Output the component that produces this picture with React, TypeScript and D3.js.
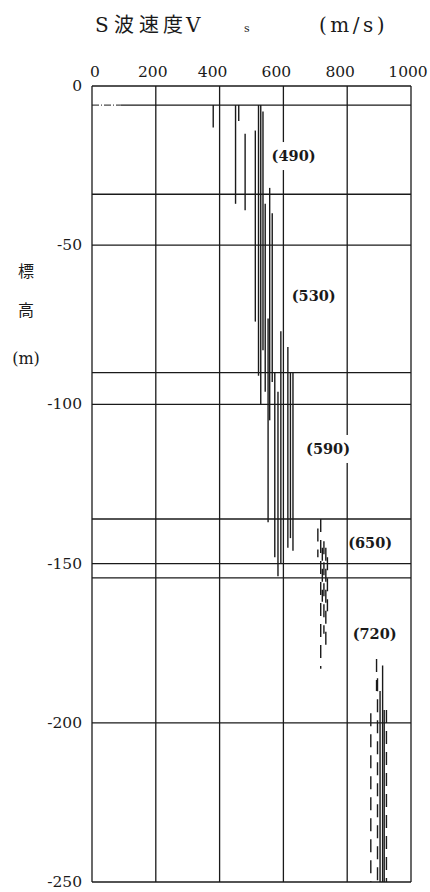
import React from "react";
import * as d3 from "d3";

const xTicks = [0, 200, 400, 600, 800, 1000];
const yTicks = [0, -50, -100, -150, -200, -250];
const boundaries = [-6, -34, -90, -136, -154.5];
const layerLabels = ["(490)", "(530)", "(590)", "(650)", "(720)"];
const layerLabelVs = [632, 695, 740, 872, 886];
const layerLabelDepth = [-22, -66, -114, -143.5, -172];

// [Vs (m/s), top elevation (m), bottom elevation (m)]
const solidSegments: [number, number, number][] = [
  [380, -6, -13],
  [450, -6, -37],
  [460, -6, -11],
  [480, -15, -39],
  [512, -14, -74],
  [522, -6, -91],
  [529, -6, -100],
  [536, -8, -83],
  [543, -37, -96],
  [557, -32, -105],
  [565, -40, -93],
  [552, -73, -137],
  [573, -90, -148],
  [583, -96, -154],
  [592, -77, -150],
  [614, -82, -145],
  [622, -90, -142],
  [630, -90, -146],
  [903, -190, -250],
  [911, -182, -250],
  [916, -196, -250],
];
const dashedSegments: [number, number, number][] = [
  [708, -139, -148],
  [717, -136, -183],
  [722, -145, -162],
  [727, -143, -172],
  [733, -145, -176],
  [738, -148, -165],
  [874, -197, -250],
  [892, -180, -190],
  [895, -186, -250],
  [923, -196, -250],
];

const W = 430;
const H = 892;

export default function App() {
  const x = d3.scaleLinear().domain([0, 1000]).range([92, 411]);
  const y = d3.scaleLinear().domain([0, -250]).range([86, 882]);
  const serif = "'DejaVu Serif', 'Liberation Serif', serif";
  const cjk = "'Noto Sans CJK JP', sans-serif";
  const ink = "#1a1a1a";
  const xLabelShift = (i: number) => (i === 0 ? 3 : i === xTicks.length - 1 ? -3 : i === 1 ? -3 : -7);

  return (
    <div style={{ position: "absolute", left: 0, top: 0 }}>
      <svg width={W} height={H} style={{ display: "block", background: "#fff" }}>
        {/* title */}
        <text y={32} fill={ink} fontSize={20} fontFamily={cjk}>
          <tspan x={95} fontFamily={serif}>S</tspan>
          <tspan x={114}>波</tspan>
          <tspan x={139}>速</tspan>
          <tspan x={163}>度</tspan>
          <tspan x={186} fontFamily={serif}>V</tspan>
          <tspan x={244} fontSize={11} fontFamily={serif}>s</tspan>
          <tspan x={319} fontFamily={serif} letterSpacing={3.5}>(m/s)</tspan>
        </text>

        {/* y-axis title */}
        <g fill={ink} fontSize={16} textAnchor="middle">
          <text x={26} y={277} fontFamily={cjk}>標</text>
          <text x={26} y={316} fontFamily={cjk}>高</text>
          <text x={26} y={364} fontFamily={serif}>(m)</text>
        </g>

        {/* x tick labels */}
        <g fill={ink} fontSize={15.5} fontFamily={serif} textAnchor="middle">
          {xTicks.map((t, i) => (
            <text key={t} x={x(t) + xLabelShift(i)} y={77}>
              {t}
            </text>
          ))}
        </g>

        {/* y tick labels */}
        <g fill={ink} fontSize={15.5} fontFamily={serif} textAnchor="end">
          {yTicks.map((t) => (
            <text key={t} x={82} y={y(t) + 5}>
              {t}
            </text>
          ))}
        </g>

        {/* grid */}
        <g stroke={ink} strokeWidth={1.3}>
          {xTicks.map((t) => (
            <line key={t} x1={x(t)} x2={x(t)} y1={y(0)} y2={y(-250)} />
          ))}
          {yTicks.map((t) => (
            <line key={t} x1={x(0)} x2={x(1000)} y1={y(t)} y2={y(t)} />
          ))}
          {boundaries.map((b, i) => (
            <line key={b} x1={i === 0 ? x(90) : x(0)} x2={x(1000)} y1={y(b)} y2={y(b)} />
          ))}
          <line x1={x(0)} x2={x(90)} y1={y(boundaries[0])} y2={y(boundaries[0])} strokeDasharray="7 2 1 2" strokeWidth={1} />
        </g>

        {/* layer labels with white knockout */}
        <g>
          {layerLabels.map((l, i) => (
            <g key={l}>
              <rect x={x(layerLabelVs[i]) - 22} y={y(layerLabelDepth[i]) - 14} width={44} height={28} fill="#fff" />
              <text
                x={x(layerLabelVs[i])}
                y={y(layerLabelDepth[i]) + 5}
                textAnchor="middle"
                fontSize={14.5}
                fontWeight={700}
                fontFamily={serif}
                fill={ink}
              >
                {l}
              </text>
            </g>
          ))}
        </g>

        {/* measured segments */}
        <g stroke={ink} strokeWidth={1.4}>
          {solidSegments.map((s, i) => (
            <line key={"s" + i} x1={x(s[0])} x2={x(s[0])} y1={y(s[1])} y2={y(s[2])} />
          ))}
          {dashedSegments.map((s, i) => (
            <line
              key={"d" + i}
              x1={x(s[0])}
              x2={x(s[0])}
              y1={y(s[1])}
              y2={y(s[2])}
              strokeDasharray="13 8"
            />
          ))}
        </g>
      </svg>
    </div>
  );
}
